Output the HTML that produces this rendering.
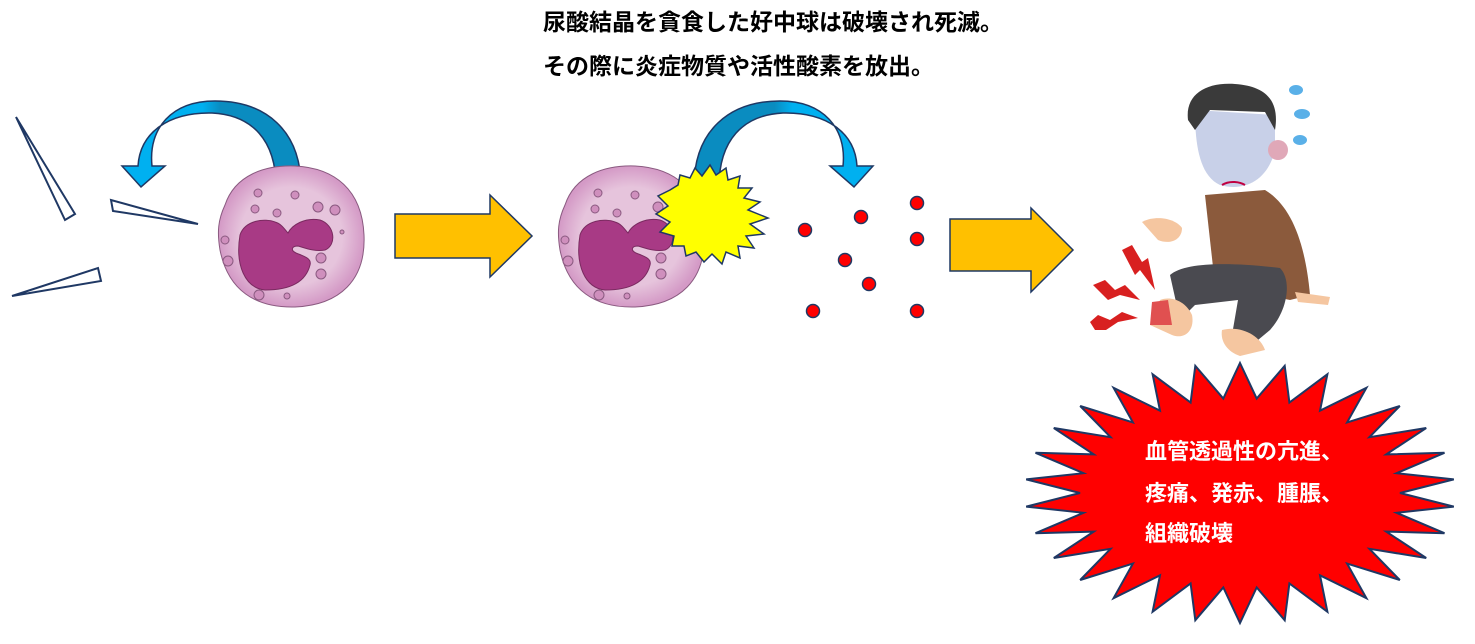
<!DOCTYPE html>
<html><head><meta charset="utf-8"><style>
html,body{margin:0;padding:0;background:#fff;}
.t{position:absolute;font-family:"Liberation Sans","Noto Sans CJK JP",sans-serif;font-weight:bold;white-space:nowrap;}
</style></head><body>
<div style="position:relative;width:1475px;height:644px;overflow:hidden;">
<svg width="1475" height="644" style="position:absolute;left:0;top:0">
<defs>
<linearGradient id="bl" x1="0" x2="1" y1="0" y2="0"><stop offset="0.45" stop-color="#00b0f0"/><stop offset="0.55" stop-color="#0a8cc0"/></linearGradient>
<radialGradient id="cell"><stop offset="0.7" stop-color="#e6c4dc"/><stop offset="1" stop-color="#d49ac6"/></radialGradient>
</defs>
<g fill="#fff" stroke="#1f3864" stroke-width="2">
<polygon points="16,117 65,220 75,214"/>
<polygon points="111,200 113,211 198,224"/>
<polygon points="12,296 98,268 101,281"/>
</g>
<g id="ba"><path d="M276,187 L301,187 C301,130 265,101 215,101 C172,101 148,128 152,166 L165,166 L141,187 L122,166 L138,166 C140,133 168,112 212,113 C252,115 276,140 276,187 Z" fill="url(#bl)" stroke="#1f3864" stroke-width="1.5"/></g>
<use href="#ba" transform="translate(995,0) scale(-1,1)"/>
<g id="c1">
<path d="M225,205 C235,175 265,165 295,166 C335,168 362,190 364,235 C366,280 340,305 295,307 C255,308 228,290 220,250 C217,232 218,220 225,205Z" fill="url(#cell)" stroke="#8a5a80" stroke-width="1"/>
<path d="M240,235 C245,220 265,218 275,222 C282,224 285,230 288,233 C292,225 305,217 320,220 C335,225 337,245 325,250 C315,252 305,248 298,246 C292,246 290,250 296,253 C303,256 312,258 310,265 C305,285 285,290 265,290 C245,288 235,265 240,235Z" fill="#a83a85" stroke="#7a2a60" stroke-width="1"/>
<g fill="#cf8fbd" stroke="#8a5a80" stroke-width="1">
<circle cx="258" cy="193" r="4"/><circle cx="295" cy="195" r="4"/><circle cx="255" cy="209" r="4"/><circle cx="277" cy="213" r="4"/><circle cx="318" cy="207" r="5"/><circle cx="335" cy="210" r="5"/><circle cx="342" cy="232" r="2"/><circle cx="225" cy="240" r="4"/><circle cx="228" cy="261" r="5"/><circle cx="321" cy="258" r="5"/><circle cx="321" cy="274" r="5"/><circle cx="259" cy="295" r="5"/><circle cx="287" cy="296" r="3"/>
</g></g>
<use href="#c1" transform="translate(340,0)"/>
<polygon fill="#ffff00" stroke="#1f3864" stroke-width="1.5" points="
670,190 678,185 680,175 690,178 695,168 702,176 710,165 716,175 726,168 728,180 740,176 738,188 752,188 744,198 760,202 748,210 768,218 750,224 764,234 746,236 754,248 738,246 740,258 726,252 722,264 712,254 704,262 696,252 686,256 684,246 672,246 674,236 660,232 670,222 656,214 668,206 658,196"/>
<polygon fill="#ffc000" stroke="#1f3864" stroke-width="1.5" points="395,214 490,214 490,195 532,236 490,277 490,258 395,258"/>
<polygon fill="#ffc000" stroke="#1f3864" stroke-width="1.5" points="950,219 1031,219 1031,208 1073,250 1031,292 1031,271 950,271"/>
<g fill="#ff0000" stroke="#1f3864" stroke-width="1.5">
<circle cx="805" cy="230" r="6.5"/><circle cx="861" cy="217" r="6.5"/><circle cx="917" cy="203" r="6.5"/><circle cx="917" cy="239" r="6.5"/><circle cx="845" cy="260" r="6.5"/><circle cx="869" cy="284" r="6.5"/><circle cx="813" cy="311" r="6.5"/><circle cx="917" cy="311" r="6.5"/>
</g>
<g>
<path d="M1205,195 L1265,190 C1290,205 1305,240 1310,295 L1290,300 L1215,285 Z" fill="#8b5a3c"/>
<path d="M1170,275 C1185,262 1230,262 1280,268 C1292,280 1288,310 1270,330 L1252,345 L1232,335 L1238,300 L1195,305 L1180,320 Z" fill="#4a4a50"/>
<path d="M1160,300 C1170,296 1185,300 1192,315 C1195,330 1185,340 1172,335 L1150,325 Z" fill="#f5c6a0"/>
<path d="M1152,302 L1168,300 L1172,325 L1150,325 Z" fill="#e05050"/>
<path d="M1222,330 C1240,325 1260,335 1265,350 L1240,356 C1228,352 1220,342 1222,330Z" fill="#f5c6a0"/>
<path d="M1295,292 L1330,297 L1328,305 L1298,302Z" fill="#f5c6a0"/>
<path d="M1142,222 C1155,215 1175,218 1182,228 C1182,240 1170,245 1158,240 Z" fill="#f5c6a0"/>
<path d="M1195,110 C1195,140 1198,175 1220,185 C1245,192 1268,180 1275,150 L1275,115 Z" fill="#c8d0e8"/>
<circle cx="1278" cy="150" r="10" fill="#e0a8b8"/>
<path d="M1188,120 C1185,95 1205,82 1235,84 C1265,86 1280,100 1275,130 L1265,112 L1210,110 L1195,130 Z" fill="#3a3a3a"/>
<path d="M1222,185 C1230,180 1240,182 1245,185" stroke="#c00040" stroke-width="2" fill="none"/>
<g fill="#5ab0e8"><ellipse cx="1296" cy="90" rx="7" ry="5"/><ellipse cx="1302" cy="114" rx="8" ry="5"/><ellipse cx="1300" cy="140" rx="7" ry="5"/></g>
<g fill="#d82020">
<polygon points="1122,250 1132,245 1142,262 1148,258 1155,290 1140,270 1135,275"/>
<polygon points="1093,285 1105,280 1115,290 1125,285 1140,300 1120,295 1108,300"/>
<polygon points="1090,322 1098,315 1110,320 1122,312 1138,318 1118,322 1106,330 1095,330"/>
</g>
</g>
<polygon id="bb" fill="#ff0000" stroke="#1f3864" stroke-width="2" points=""/>
</svg>
<div class="t" style="left:543px;top:9px;font-size:23px;line-height:26px">尿酸結晶を貪食した好中球は破壊され死滅。</div>
<div class="t" style="left:543px;top:53px;font-size:23px;line-height:26px">その際に炎症物質や活性酸素を放出。</div>
<div class="t" style="left:1145px;top:439px;font-size:22px;line-height:26px;color:#fff">血管透過性の亢進、</div>
<div class="t" style="left:1145px;top:481px;font-size:22px;line-height:26px;color:#fff">疼痛、発赤、腫脹、</div>
<div class="t" style="left:1145px;top:521px;font-size:22px;line-height:26px;color:#fff">組織破壊</div>
</div>
<script>
(function(){var cx=1240,cy=493,n=30,p=[];for(var i=0;i<2*n;i++){var a=i*Math.PI/n-Math.PI/2;var o=i%2==0;var rx=o?215:160,ry=o?130:95;p.push((cx+rx*Math.cos(a)).toFixed(1)+","+(cy+ry*Math.sin(a)).toFixed(1));}
var bb=document.getElementById('bb');bb.setAttribute('points',p.join(' '));bb.parentNode.appendChild(bb);})();
</script>
</body></html>
